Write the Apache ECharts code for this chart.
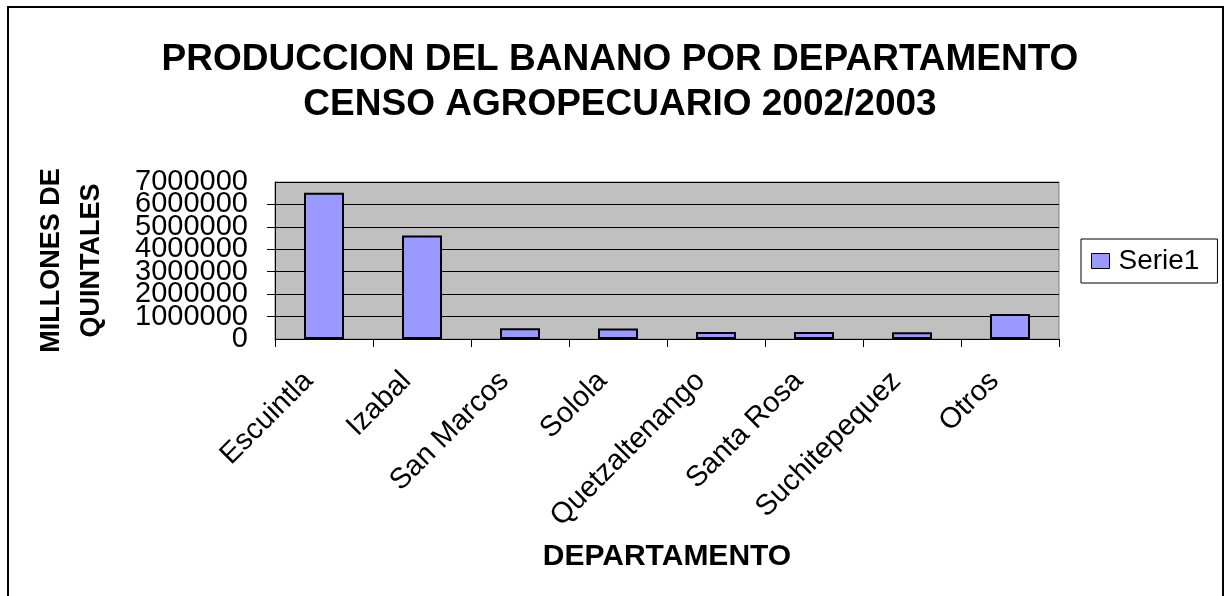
<!DOCTYPE html>
<html>
<head>
<meta charset="utf-8">
<script src="https://cdn.jsdelivr.net/npm/echarts@6/dist/echarts.min.js"></script>
<style>
  html, body { margin: 0; padding: 0; background: #fff; }
  #chart { width: 1226px; height: 596px; }
</style>
</head>
<body>
<div id="chart"></div>
<script>
// departamentos
var departamentos = ["Escuintla", "Izabal", "San Marcos", "Solola", "Quetzaltenango", "Santa Rosa", "Suchitepequez", "Otros"];
// produccion (quintales)
var serie1 = [6520000, 4610000, 480000, 470000, 310000, 310000, 300000, 1110000];
// etiquetas del eje y
var yMin = 0;
var yMax = 7000000;
var yPaso = 1000000;

var fuente = "'Liberation Sans', Arial, sans-serif";

// estilo de las etiquetas del eje y
function etiquetasY(extra) {
    var base = {
        margin: 27,
        fontFamily: fuente,
        fontSize: 29,
        color: "#000"
    };
    for (var k in extra) base[k] = extra[k];
    return base;
}

var myChart = echarts.init(document.getElementById("chart"));
var option = {
    backgroundColor: "#ffffff",
    animation: false,
    // titulo
    title: {
        text: "PRODUCCION DEL BANANO POR DEPARTAMENTO\nCENSO AGROPECUARIO 2002/2003",
        left: 615,
        textAlign: "center",
        top: 32,
        textStyle: {
            fontFamily: fuente,
            fontWeight: "bold",
            fontSize: 37,
            lineHeight: 45,
            color: "#000"
        }
    },
    // leyenda
    legend: {
        left: 1081,
        top: 239,
        orient: "vertical",
        borderColor: "#000",
        borderWidth: 1,
        padding: [8, 18, 8, 10],
        itemWidth: 18,
        itemHeight: 15,
        icon: "rect",
        itemStyle: { borderColor: "#000", borderWidth: 1 },
        textStyle: {
            fontFamily: fuente,
            fontSize: 28,
            color: "#000",
            padding: [0, 0, 0, 4]
        },
        data: ["Serie1"]
    },
    grid: {
        left: 275,
        right: 167,
        top: 182,
        bottom: 257,
        show: true,
        backgroundColor: "#C0C0C0",
        borderColor: "#808080",
        borderWidth: 1
    },
    xAxis: {
        type: "category",
        data: departamentos,
        name: "DEPARTAMENTO",
        nameLocation: "middle",
        nameGap: 203,
        nameTextStyle: {
            fontFamily: fuente,
            fontWeight: "bold",
            fontSize: 30,
            color: "#000"
        },
        axisLine: { lineStyle: { color: "#000", width: 1 } },
        axisTick: { show: true, length: 8, lineStyle: { color: "#000" } },
        axisLabel: {
            rotate: 45,
            margin: 22,
            interval: 0,
            padding: [0, 22, 0, 0],
            fontFamily: fuente,
            fontSize: 29,
            color: "#000"
        }
    },
    yAxis: [{
        // eje principal: lineas, marcas y etiquetas intermedias
        type: "value",
        position: "left",
        min: yMin,
        max: yMax,
        interval: yPaso,
        name: "MILLONES DE\nQUINTALES",
        nameLocation: "middle",
        nameRotate: 90,
        nameGap: 163,
        nameTextStyle: {
            fontFamily: fuente,
            fontWeight: "bold",
            fontSize: 27,
            lineHeight: 40,
            color: "#000"
        },
        axisLine: { show: true, lineStyle: { color: "#000", width: 1 } },
        axisTick: { show: true, length: 8, lineStyle: { color: "#000" } },
        axisLabel: etiquetasY({
            showMinLabel: false,
            showMaxLabel: false,
            formatter: function (v) { return String(v); }
        }),
        splitLine: { show: true, lineStyle: { color: "#000", width: 1 } }
    }, {
        // mismo eje, solo etiquetas del minimo y maximo
        type: "value",
        position: "left",
        offset: 0,
        min: yMin,
        max: yMax,
        interval: yPaso,
        axisLine: { show: false },
        axisTick: { show: false },
        splitLine: { show: false },
        axisLabel: etiquetasY({
            showMinLabel: true,
            showMaxLabel: true,
            formatter: function (v) { return (v === yMin || v === yMax) ? String(v) : ""; }
        })
    }],
    // marco exterior
    graphic: [{
        type: "rect",
        silent: true,
        shape: { x: 8, y: 7, width: 1215, height: 620 },
        style: { fill: "none", stroke: "#000", lineWidth: 2 }
    }],
    series: [{
        name: "Serie1",
        type: "bar",
        data: serie1,
        barWidth: 40,
        itemStyle: {
            color: "#9999FF",
            borderColor: "#000",
            borderWidth: 2
        }
    }]
};
myChart.setOption(option);
</script>
</body>
</html>
